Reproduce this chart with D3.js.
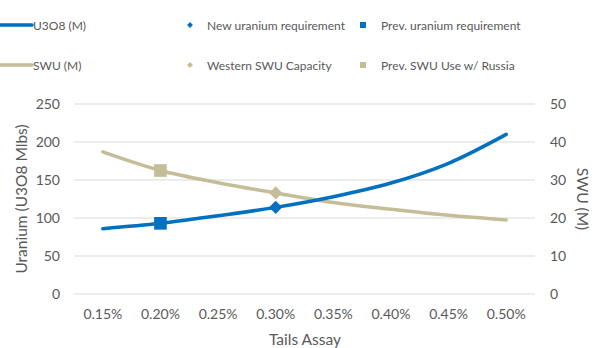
<!DOCTYPE html>
<html><head><meta charset="utf-8">
<script src="https://cdn.jsdelivr.net/npm/d3@7"></script>
<style>body{margin:0;background:#fff}svg{display:block}text{font-family:Lato,sans-serif;fill:#595959}</style>
</head><body><svg id="c" width="606" height="348"></svg>
<script>
const categories = ["0.15%","0.20%","0.25%","0.30%","0.35%","0.40%","0.45%","0.50%"];
const u3o8 = [86, 93, 103, 114, 128, 146, 172, 210];
const swu = [37.4, 32.5, 29.3, 26.6, 24.1, 22.3, 20.7, 19.5];
const leftTicks = [0, 50, 100, 150, 200, 250];
const rightTicks = [0, 10, 20, 30, 40, 50];
const newU = {cat: "0.30%", value: 114};
const prevU = {cat: "0.20%", value: 93};
const westSWU = {cat: "0.30%", value: 26.6};
const prevSWU = {cat: "0.20%", value: 32.5};
const blue = "#0070C0", beige = "#C4BD97";
const FONT = "Lato";

const svg = d3.select("#c");
const x = d3.scaleBand().domain(categories).range([74, 535]);
const cx = c => x(c) + x.bandwidth()/2;
const yL = d3.scaleLinear().domain([0, 250]).range([294, 104]);
const yR = d3.scaleLinear().domain([0, 50]).range([294, 104]);

svg.append("g").selectAll("line").data(leftTicks).join("line")
  .attr("x1", 74).attr("x2", 535).attr("y1", d => yL(d)).attr("y2", d => yL(d))
  .attr("stroke", "#D9D9D9").attr("stroke-width", 1);

const gl = svg.append("g").attr("transform", "translate(74,0)")
  .call(d3.axisLeft(yL).tickValues(leftTicks).tickSize(0).tickPadding(14));
const gr = svg.append("g").attr("transform", "translate(535,0)")
  .call(d3.axisRight(yR).tickValues(rightTicks).tickSize(0).tickPadding(15));
const gx = svg.append("g").attr("transform", "translate(0,294)")
  .call(d3.axisBottom(x).tickSize(0).tickPadding(15));
[gl, gr, gx].forEach(g => {
  g.select(".domain").remove();
  g.selectAll("text").attr("font-size", 14).attr("fill", "#595959").attr("font-family", FONT);
});

const lineL = d3.line().x((d,i) => cx(categories[i])).y(d => yL(d)).curve(d3.curveCatmullRom.alpha(0.5));
const lineR = d3.line().x((d,i) => cx(categories[i])).y(d => yR(d)).curve(d3.curveCatmullRom.alpha(0.5));
svg.append("path").datum(swu).attr("d", lineR).attr("fill", "none").attr("stroke", beige).attr("stroke-width", 3.5).attr("stroke-linecap", "round");
svg.append("path").datum(u3o8).attr("d", lineL).attr("fill", "none").attr("stroke", blue).attr("stroke-width", 3.5).attr("stroke-linecap", "round");

const sq = d3.symbol().type(d3.symbolSquare).size(160);
const dm = d3.symbol().type(d3.symbolDiamond2).size(110);
svg.append("path").attr("d", sq()).attr("fill", beige).attr("transform", `translate(${cx(prevSWU.cat)},${yR(prevSWU.value)})`);
svg.append("path").attr("d", dm()).attr("fill", beige).attr("transform", `translate(${cx(westSWU.cat)},${yR(westSWU.value)})`);
svg.append("path").attr("d", sq()).attr("fill", blue).attr("transform", `translate(${cx(prevU.cat)},${yL(prevU.value)})`);
svg.append("path").attr("d", dm()).attr("fill", blue).attr("transform", `translate(${cx(newU.cat)},${yL(newU.value)})`);

svg.append("text").attr("transform", "translate(21,199) rotate(-90)").attr("text-anchor", "middle").attr("dominant-baseline", "central").attr("font-size", 15.5).text("Uranium (U3O8 Mlbs)");
svg.append("text").attr("transform", "translate(583,199) rotate(90)").attr("text-anchor", "middle").attr("dominant-baseline", "central").attr("font-size", 15.5).text("SWU (M)");
svg.append("text").attr("x", 305).attr("y", 339).attr("text-anchor", "middle").attr("dominant-baseline", "central").attr("font-size", 15.5).text("Tails Assay");

const lg = svg.append("g");
const ls = 12;
[["U3O8 (M)", blue, 25], ["SWU (M)", beige, 65]].forEach(([t, c, yy]) => {
  lg.append("line").attr("x1", 0).attr("x2", 32).attr("y1", yy).attr("y2", yy).attr("stroke", c).attr("stroke-width", 3.5).attr("stroke-linecap", "round");
  lg.append("text").attr("x", 33).attr("y", yy).attr("dominant-baseline", "central").attr("font-size", ls).text(t);
});
const sm = d3.symbol().type(d3.symbolDiamond2).size(22);
const ss = d3.symbol().type(d3.symbolSquare).size(36);
[["New uranium requirement", blue, 25], ["Western SWU Capacity", beige, 65]].forEach(([t, c, yy]) => {
  lg.append("path").attr("d", sm()).attr("fill", c).attr("transform", `translate(190,${yy})`);
  lg.append("text").attr("x", 207).attr("y", yy).attr("dominant-baseline", "central").attr("font-size", ls).text(t);
});
[["Prev. uranium requirement", blue, 25], ["Prev. SWU Use w/ Russia", beige, 65]].forEach(([t, c, yy]) => {
  lg.append("path").attr("d", ss()).attr("fill", c).attr("transform", `translate(363,${yy})`);
  lg.append("text").attr("x", 381).attr("y", yy).attr("dominant-baseline", "central").attr("font-size", ls).text(t);
});
</script></body></html>
